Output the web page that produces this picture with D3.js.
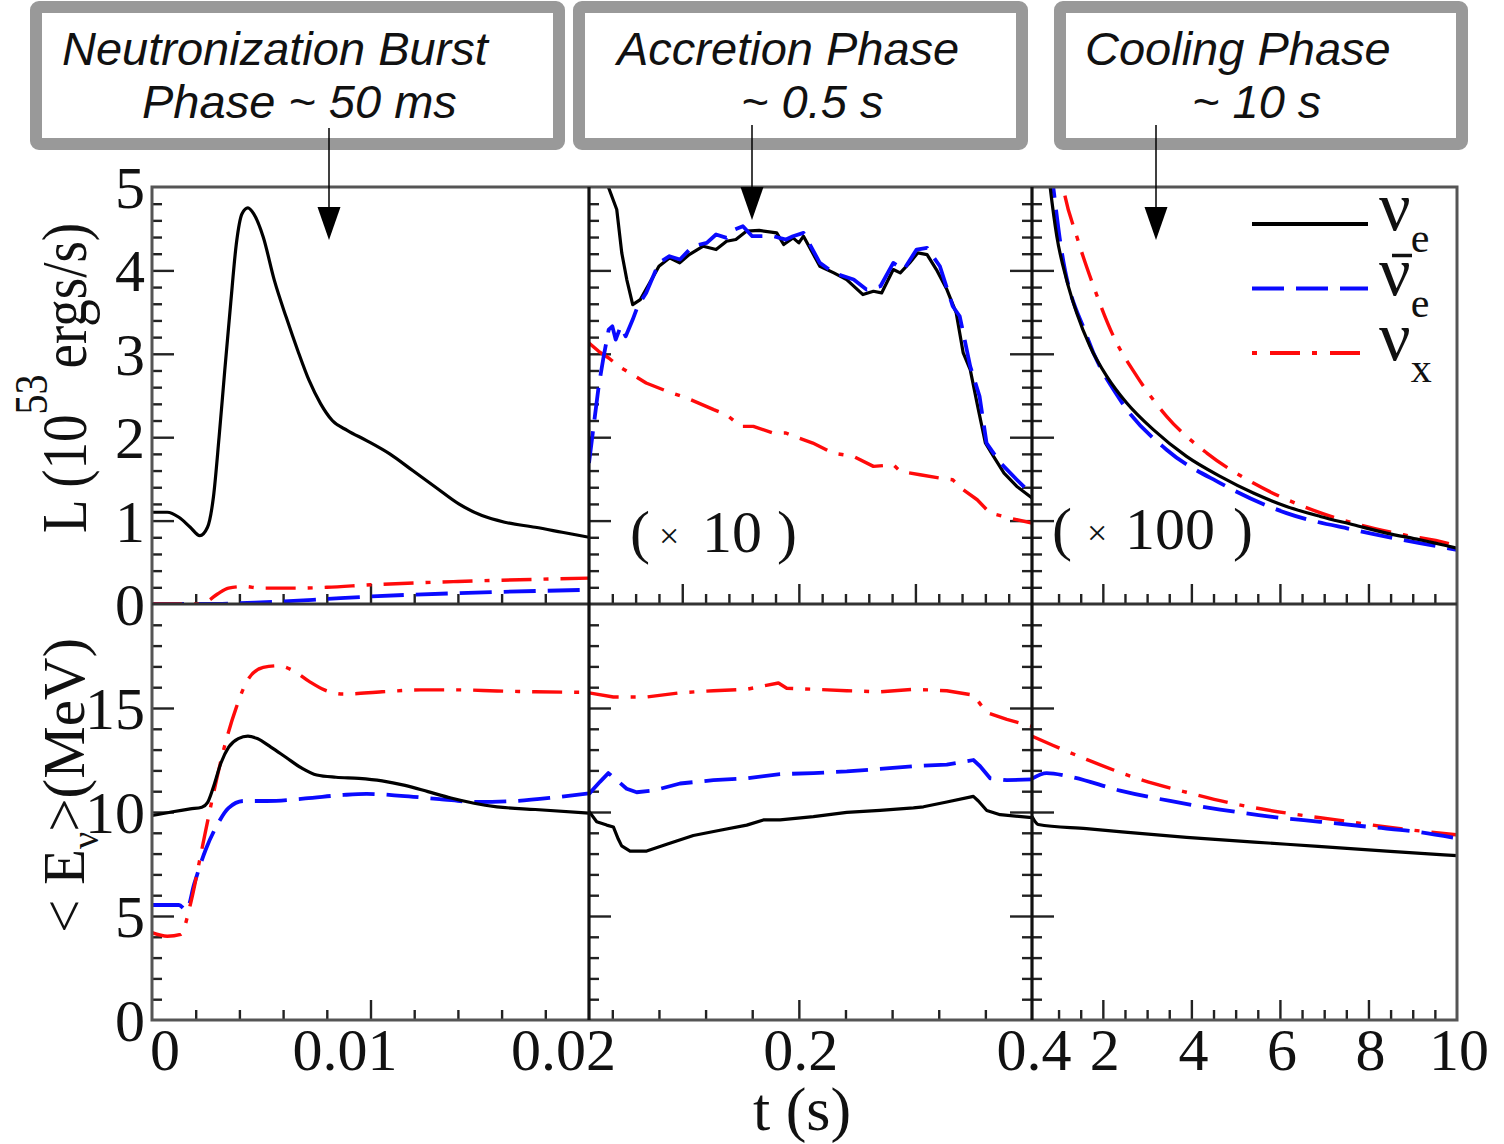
<!doctype html>
<html>
<head>
<script src="https://d3js.org/d3.v7.min.js"></script>
<style>
  body { margin: 0; background: #fff; }
  text { font-family: "Liberation Serif", "Times New Roman", serif; fill: #111; }
  .phase { font-family: "Liberation Sans", Arial, sans-serif; font-style: italic; }
</style>
</head>
<body>
<script>
// ---- luminosity, neutronization burst (t in s, L in 1e53 erg/s) ----
var burstL_nue = [[0,1.10],[0.0007,1.10],[0.00123,1.04],[0.00175,0.92],[0.00219,0.82],[0.00254,0.92],[0.00281,1.28],[0.00307,2.0],[0.00333,2.8],[0.0036,3.6],[0.00386,4.32],[0.00412,4.68],[0.00439,4.75],[0.00465,4.68],[0.00509,4.4],[0.0056,3.88],[0.00614,3.44],[0.00667,3.04],[0.00719,2.68],[0.00772,2.4],[0.00825,2.2],[0.00895,2.08],[0.00982,1.96],[0.01088,1.8],[0.01193,1.6],[0.01298,1.4],[0.01404,1.2],[0.0151,1.06],[0.01614,0.98],[0.01754,0.92],[0.01877,0.86],[0.02,0.8]];
var burstL_nuebar = [[0,0],[0.003,0.0],[0.004,0.01],[0.006,0.03],[0.008,0.06],[0.010,0.09],[0.014,0.13],[0.02,0.17]];
var burstL_nux = [[0,0],[0.0019,0.0],[0.0025,0.03],[0.003,0.12],[0.0035,0.19],[0.0042,0.21],[0.005,0.19],[0.0065,0.19],[0.008,0.2],[0.010,0.23],[0.014,0.27],[0.02,0.31]];

// ---- luminosity, accretion (plotted x10) ----
var accL_nue = [[0.02,8.0],[0.0366,5.0],[0.0438,4.73],[0.0481,4.21],[0.0524,3.89],[0.0575,3.59],[0.064,3.65],[0.0721,3.85],[0.080,4.05],[0.089,4.15],[0.0978,4.09],[0.106,4.19],[0.118,4.29],[0.129,4.25],[0.138,4.35],[0.146,4.37],[0.155,4.47],[0.166,4.48],[0.181,4.45],[0.187,4.31],[0.195,4.39],[0.2,4.33],[0.204,4.41],[0.218,4.05],[0.230,3.97],[0.241,3.89],[0.255,3.71],[0.264,3.75],[0.271,3.73],[0.281,4.01],[0.287,3.97],[0.295,4.09],[0.302,4.21],[0.31,4.19],[0.318,4.01],[0.327,3.77],[0.335,3.49],[0.341,3.01],[0.347,2.81],[0.354,2.33],[0.360,1.93],[0.367,1.77],[0.376,1.57],[0.387,1.41],[0.4,1.27]];
var accL_nuebar = [[0.02,1.69],[0.0243,2.17],[0.0283,2.61],[0.0326,2.97],[0.0369,3.29],[0.04,3.33],[0.0429,3.17],[0.0472,3.33],[0.0515,3.21],[0.0575,3.41],[0.0618,3.57],[0.069,3.73],[0.080,4.09],[0.089,4.17],[0.098,4.13],[0.109,4.29],[0.121,4.33],[0.129,4.43],[0.138,4.39],[0.145,4.49],[0.152,4.53],[0.16,4.41],[0.178,4.41],[0.189,4.37],[0.195,4.41],[0.204,4.45],[0.218,4.09],[0.23,3.97],[0.247,3.89],[0.258,3.77],[0.270,3.81],[0.281,4.09],[0.29,4.01],[0.301,4.25],[0.31,4.27],[0.321,4.05],[0.332,3.57],[0.338,3.45],[0.347,2.85],[0.355,2.49],[0.361,1.93],[0.373,1.69],[0.387,1.49],[0.4,1.31]];
var accL_nux = [[0.02,3.13],[0.0283,3.03],[0.0369,2.95],[0.0455,2.85],[0.0575,2.75],[0.069,2.65],[0.087,2.55],[0.104,2.47],[0.127,2.33],[0.138,2.27],[0.15,2.13],[0.161,2.13],[0.178,2.05],[0.189,2.05],[0.2,1.99],[0.212,1.93],[0.229,1.81],[0.247,1.77],[0.264,1.65],[0.281,1.67],[0.287,1.59],[0.304,1.55],[0.321,1.51],[0.332,1.49],[0.341,1.37],[0.353,1.25],[0.364,1.09],[0.381,1.03],[0.4,0.97]];

// ---- luminosity, cooling (plotted x100) ----
var coolL_nue = [[0.6,6.1],[0.81,5.0],[0.96,4.41],[1.18,3.89],[1.41,3.49],[1.71,3.09],[2.09,2.73],[2.54,2.41],[3.14,2.09],[3.89,1.77],[4.65,1.53],[5.4,1.33],[6.15,1.17],[6.91,1.05],[7.66,0.95],[8.41,0.85],[9.16,0.77],[10,0.67]];
var coolL_nuebar = [[0.6,6.3],[0.88,5.0],[1.03,4.37],[1.64,3.21],[2.39,2.45],[3.44,1.85],[4.65,1.45],[6.15,1.09],[7.66,0.89],[9.16,0.73],[10,0.65]];
var coolL_nux = [[0.8,6.3],[1.11,4.99],[1.41,4.41],[1.79,3.81],[2.24,3.21],[2.77,2.73],[3.44,2.25],[4.35,1.81],[5.4,1.45],[6.53,1.17],[7.66,0.97],[8.79,0.83],[9.77,0.73],[10,0.69]];

// ---- mean energy (MeV) ----
var burstE_nue = [[0,9.83],[0.00088,10.0],[0.00175,10.15],[0.00228,10.23],[0.00254,10.45],[0.00281,11.2],[0.00316,12.37],[0.00351,13.12],[0.00395,13.53],[0.00439,13.65],[0.00482,13.53],[0.00544,13.12],[0.00614,12.62],[0.00684,12.12],[0.00754,11.78],[0.00842,11.67],[0.00947,11.62],[0.01053,11.5],[0.01158,11.28],[0.01263,10.98],[0.01368,10.67],[0.01474,10.42],[0.01579,10.25],[0.01754,10.12],[0.02,9.95]];
var burstE_nuebar = [[0,5.53],[0.00123,5.53],[0.00158,5.28],[0.00193,6.53],[0.00246,8.2],[0.00298,9.37],[0.00351,10.2],[0.00421,10.53],[0.00526,10.53],[0.00702,10.65],[0.00877,10.82],[0.00982,10.87],[0.0114,10.78],[0.01316,10.62],[0.01491,10.48],[0.01667,10.53],[0.01842,10.7],[0.02,10.9]];
var burstE_nux = [[0,4.2],[0.0007,4.03],[0.00132,4.12],[0.00175,5.53],[0.00228,8.2],[0.00281,10.87],[0.00333,13.2],[0.00386,15.03],[0.00439,16.37],[0.00509,16.95],[0.00579,17.03],[0.00649,16.78],[0.00719,16.28],[0.00789,15.87],[0.00877,15.67],[0.01053,15.78],[0.01228,15.87],[0.01404,15.87],[0.01579,15.82],[0.01754,15.78],[0.02,15.75]];

var accE_nue = [[0.02,10.03],[0.0266,9.53],[0.0352,9.37],[0.0409,9.28],[0.0451,8.7],[0.048,8.37],[0.0552,8.12],[0.0695,8.12],[0.0867,8.45],[0.1095,8.87],[0.1324,9.12],[0.1553,9.37],[0.1696,9.62],[0.1839,9.62],[0.2125,9.78],[0.2411,9.98],[0.2697,10.08],[0.2983,10.2],[0.3069,10.25],[0.3269,10.48],[0.3497,10.75],[0.354,10.53],[0.3612,10.07],[0.3727,9.87],[0.4,9.73]];
var accE_nuebar = [[0.02,10.87],[0.0294,11.45],[0.0366,11.87],[0.0438,11.53],[0.0523,11.12],[0.0609,10.95],[0.0752,11.03],[0.0981,11.37],[0.1267,11.53],[0.1553,11.62],[0.1839,11.82],[0.2125,11.87],[0.2411,11.95],[0.2697,12.07],[0.2983,12.2],[0.3269,12.28],[0.3497,12.5],[0.3555,12.2],[0.3641,11.62],[0.3784,11.53],[0.4,11.57]];
var accE_nux = [[0.02,15.73],[0.0409,15.53],[0.0695,15.53],[0.0981,15.73],[0.1267,15.83],[0.1553,15.9],[0.1825,16.2],[0.1896,15.95],[0.2125,15.9],[0.2411,15.83],[0.2697,15.78],[0.2983,15.9],[0.3269,15.83],[0.3497,15.62],[0.3555,15.2],[0.3612,14.78],[0.3784,14.45],[0.4,14.12]];

var coolE_nue = [[0.4,9.78],[0.54,9.4],[1.63,9.2],[3.89,8.78],[6.15,8.45],[8.41,8.12],[10,7.9]];
var coolE_nuebar = [[0.4,11.6],[0.73,11.87],[1.26,11.7],[2.39,11.03],[3.52,10.53],[4.65,10.12],[5.78,9.78],[6.91,9.53],[8.04,9.28],[9.16,9.03],[10,8.73]];
var coolE_nux = [[0.4,13.65],[0.88,13.2],[1.63,12.53],[2.77,11.62],[3.89,10.95],[5.02,10.37],[6.15,9.95],[7.28,9.62],[8.41,9.28],[10,8.9]];

// ---- ticks and labels ----
var burstTickLabels = [0, 0.01, 0.02];
var accTickLabels = [0.2, 0.4];
var coolTickLabels = [2, 4, 6, 8, 10];
var lumTickLabels = [0, 1, 2, 3, 4, 5];
var energyTickLabels = [0, 5, 10, 15];
var phaseTitles = [["Neutronization Burst", "Phase ~ 50 ms"], ["Accretion Phase", "~ 0.5 s"], ["Cooling Phase", "~ 10 s"]];

var canvasWidth = 1504, canvasHeight = 1144;
var svg = d3.select("body").append("svg")
    .attr("width", canvasWidth)
    .attr("height", canvasHeight);

var cols = [
    {x0: 152, x1: 589, dom: [0, 0.02]},
    {x0: 589, x1: 1032, dom: [0.02, 0.4]},
    {x0: 1032, x1: 1457, dom: [0.4, 10]}
];
var rows = [
    {y0: 187, y1: 604, dom: [0, 5]},
    {y0: 604, y1: 1020, dom: [0, 20]}
];
cols.forEach(c => c.x = d3.scaleLinear().domain(c.dom).range([c.x0, c.x1]));
rows.forEach(r => r.y = d3.scaleLinear().domain(r.dom).range([r.y1, r.y0]));

var styles = {
    nue:    {color: "#000", width: 3.2, dash: null},
    nuebar: {color: "#0a0aff", width: 3.8, dash: "32,12"},
    nux:    {color: "#ff0a0a", width: 3.4, dash: "30,12,5,12"}
};

var series = [
    [0, 0, burstL_nuebar, "nuebar"], [0, 0, burstL_nux, "nux"], [0, 0, burstL_nue, "nue"],
    [0, 1, accL_nux, "nux"], [0, 1, accL_nue, "nue"], [0, 1, accL_nuebar, "nuebar"],
    [0, 2, coolL_nux, "nux"], [0, 2, coolL_nuebar, "nuebar"], [0, 2, coolL_nue, "nue"],
    [1, 0, burstE_nuebar, "nuebar"], [1, 0, burstE_nux, "nux"], [1, 0, burstE_nue, "nue"],
    [1, 1, accE_nux, "nux"], [1, 1, accE_nuebar, "nuebar"], [1, 1, accE_nue, "nue"],
    [1, 2, coolE_nux, "nux"], [1, 2, coolE_nuebar, "nuebar"], [1, 2, coolE_nue, "nue"]
];

var defs = svg.append("defs");
rows.forEach((r, ri) => cols.forEach((c, ci) => {
    defs.append("clipPath").attr("id", "clip" + ri + ci)
        .append("rect").attr("x", c.x0).attr("y", r.y0)
        .attr("width", c.x1 - c.x0).attr("height", r.y1 - r.y0);
}));

// tick helpers (inward ticks, no domain)
function xTicks(c, yPos, vals, len) {
    var g = svg.append("g").attr("transform", "translate(0," + yPos + ")")
        .call(d3.axisBottom(c.x).tickValues(vals).tickSize(-len).tickFormat(""));
    g.select(".domain").remove();
    g.selectAll("line").attr("stroke", "#222").attr("stroke-width", 2.4);
}
function yTicks(r, xPos, vals, len, right) {
    var ax = right ? d3.axisRight(r.y) : d3.axisLeft(r.y);
    var g = svg.append("g").attr("transform", "translate(" + xPos + ",0)")
        .call(ax.tickValues(vals).tickSize(-len).tickFormat(""));
    g.select(".domain").remove();
    g.selectAll("line").attr("stroke", "#222").attr("stroke-width", 2.4);
}
function stepVals(a, b, s) { return d3.range(a, b + s / 2, s).map(v => +v.toFixed(4)); }

// x ticks per panel
[0, 1].forEach(ri => {
    var r = rows[ri];
    xTicks(cols[0], r.y1, stepVals(0.002, 0.018, 0.002).filter(v => v !== 0.01), 10);
    xTicks(cols[0], r.y1, [0.01], 20);
    if (ri === 0) {
        xTicks(cols[1], r.y1, stepVals(0.04, 0.38, 0.02).filter(v => [0.1, 0.2, 0.3].indexOf(v) < 0), 10);
        xTicks(cols[1], r.y1, [0.1, 0.2, 0.3], 20);
    } else {
        xTicks(cols[1], r.y1, stepVals(0.04, 0.36, 0.04).filter(v => v !== 0.2), 10);
        xTicks(cols[1], r.y1, [0.2], 20);
    }
    xTicks(cols[2], r.y1, stepVals(1, 9.5, 0.5).filter(v => v % 2 !== 0), 10);
    xTicks(cols[2], r.y1, [2, 4, 6, 8], 20);
});

// y ticks per panel
var yMinor = [stepVals(0.2, 4.8, 0.2).filter(v => v % 1 !== 0), stepVals(1, 19, 1).filter(v => v % 5 !== 0)];
var yMajor = [[1, 2, 3, 4], [5, 10, 15]];
[0, 1].forEach(ri => {
    cols.forEach(c => {
        yTicks(rows[ri], c.x0, yMinor[ri], 10, false);
        yTicks(rows[ri], c.x0, yMajor[ri], 22, false);
    });
    yTicks(rows[ri], cols[1].x1, yMinor[ri], 10, true);
    yTicks(rows[ri], cols[1].x1, yMajor[ri], 22, true);
});

// curves
var lineGroup = svg.append("g");
series.forEach(s => {
    var r = rows[s[0]], c = cols[s[1]], st = styles[s[3]];
    var line = d3.line()
        .x(d => c.x(d[0]))
        .y(d => r.y(d[1]))
        .curve(s[1] === 1 ? d3.curveLinear : d3.curveMonotoneX);
    lineGroup.append("path")
        .attr("clip-path", "url(#clip" + s[0] + s[1] + ")")
        .attr("d", line(s[2]))
        .attr("fill", "none")
        .attr("stroke", st.color)
        .attr("stroke-width", st.width)
        .attr("stroke-dasharray", st.dash)
        .attr("stroke-linejoin", "round");
});

// frames
svg.append("rect").attr("x", 152).attr("y", 187).attr("width", 1305).attr("height", 833)
    .attr("fill", "none").attr("stroke", "#555").attr("stroke-width", 3);
svg.append("line").attr("x1", 152).attr("x2", 1457).attr("y1", 604).attr("y2", 604)
    .attr("stroke", "#333").attr("stroke-width", 3);
[589, 1032].forEach(xp => {
    svg.append("line").attr("x1", xp).attr("x2", xp).attr("y1", 187).attr("y2", 1020)
        .attr("stroke", "#111").attr("stroke-width", 3.2);
});

// y tick labels
[[0, lumTickLabels], [1, energyTickLabels]].forEach(p => {
    var r = rows[p[0]];
    svg.append("g").selectAll("text").data(p[1]).enter().append("text")
        .attr("x", 145).attr("y", d => r.y(d)).attr("dy", "0.35em")
        .attr("text-anchor", "end").attr("font-size", 60)
        .text(d => d);
});

// x tick labels (bottom row)
function xLabels(c, vals, anchor, dx) {
    svg.append("g").selectAll("text").data(vals).enter().append("text")
        .attr("x", d => c.x(d) + dx(d)).attr("y", 1070)
        .attr("text-anchor", anchor).attr("font-size", 60)
        .text(d => d);
}
xLabels(cols[0], [burstTickLabels[0]], "start", d => -2);
xLabels(cols[0], burstTickLabels.slice(1), "end", d => 27);
xLabels(cols[1], accTickLabels, "middle", d => 2);
xLabels(cols[2], coolTickLabels, "middle", d => 2);

// axis titles
svg.append("text").attr("x", 802).attr("y", 1130).attr("text-anchor", "middle")
    .attr("font-size", 62).text("t (s)");

var lt = svg.append("text").attr("transform", "translate(86,533) rotate(-90) scale(1,1.15)").attr("font-size", 55);
lt.append("tspan").text("L (10");
lt.append("tspan").attr("font-size", 40).attr("dy", -34).text("53");
lt.append("tspan").attr("dy", 34).attr("dx", 6).text("ergs/s)");

var et = svg.append("text").attr("transform", "translate(84,933) rotate(-90)").attr("font-size", 59);
et.append("tspan").text("< E");
et.append("tspan").attr("font-size", 38).attr("dy", 14).text("\u03BD");
et.append("tspan").attr("dy", -14).text(">(MeV)");

// scale factor notes
function factorNote(xs, base, factor) {
    var t = svg.append("text").attr("y", base).attr("font-size", 60);
    t.append("tspan").attr("x", xs[0]).text("(");
    t.append("tspan").attr("x", xs[1]).attr("font-size", 36).attr("dy", -4).text("\u00D7");
    t.append("tspan").attr("x", xs[2]).attr("dy", 4).text(factor);
    t.append("tspan").attr("x", xs[3]).text(")");
}
factorNote([630, 659, 702, 777], 552, "10");
factorNote([1052, 1087, 1125, 1233], 549, "100");

// legend
var legendItems = [["nue", "e"], ["nuebar", "e"], ["nux", "x"]];
var lg = svg.append("g");
legendItems.forEach((it, i) => {
    var st = styles[it[0]];
    var ly = 224 + i * 64.5;
    lg.append("line").attr("x1", 1252).attr("x2", 1368).attr("y1", ly).attr("y2", ly)
        .attr("stroke", st.color).attr("stroke-width", 4.2)
        .attr("stroke-dasharray", it[0] === "nux" ? "5,13,30,12" : st.dash);
    var t = lg.append("text").attr("x", 1379).attr("y", ly + 6 + (i === 2 ? 1 : 0)).attr("font-size", 70);
    t.append("tspan").text("\u03BD");
    t.append("tspan").attr("font-size", 42).attr("dy", 22).text(it[1]);
    if (it[0] === "nuebar") {
        // bar over the antineutrino symbol
        lg.append("line").attr("x1", 1392).attr("x2", 1412).attr("y1", ly - 33).attr("y2", ly - 33)
            .attr("stroke", "#111").attr("stroke-width", 3.5);
    }
});

// phase boxes and arrows
var boxes = [[36, 7, 523, 137], [579, 7, 443, 137], [1060, 7, 402, 137]];
var textPos = [[[62, 65], [142, 118]], [[617, 65], [741, 118]], [[1085, 65], [1192, 118]]];
boxes.forEach((b, i) => {
    svg.append("rect").attr("x", b[0]).attr("y", b[1]).attr("width", b[2]).attr("height", b[3])
        .attr("rx", 3).attr("fill", "#fff").attr("stroke", "#999").attr("stroke-width", 12);
    phaseTitles[i].forEach((line, j) => {
        svg.append("text").attr("class", "phase")
            .attr("x", textPos[i][j][0]).attr("y", textPos[i][j][1])
            .attr("font-size", 47).text(line);
    });
});
var arrows = [[329, 128, 240], [752, 125, 220], [1156, 125, 240]];
arrows.forEach(a => {
    svg.append("line").attr("x1", a[0]).attr("x2", a[0]).attr("y1", a[1]).attr("y2", a[2] - 30)
        .attr("stroke", "#000").attr("stroke-width", 1.5);
    svg.append("path")
        .attr("d", "M" + (a[0] - 11.5) + "," + (a[2] - 33) + "L" + (a[0] + 11.5) + "," + (a[2] - 33) + "L" + a[0] + "," + a[2] + "Z")
        .attr("fill", "#000");
});
</script>
</body>
</html>
